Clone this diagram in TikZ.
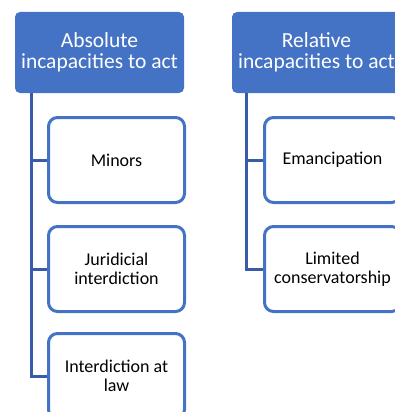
\documentclass[tikz,border=0pt]{standalone}
\usepackage{fontspec}
\setmainfont{Carlito}
\definecolor{boxblue}{RGB}{68,114,196}
\definecolor{lineblue}{RGB}{56,92,170}
\tikzset{
  headbox/.style={fill=boxblue, text=white, rounded corners=5pt, minimum width=169pt,
    minimum height=81pt, inner sep=0pt, align=center, font=\fontsize{21.5}{21}\selectfont},
  itembox/.style={draw=boxblue, line width=3pt, fill=white, rounded corners=9pt,
    minimum width=136pt, minimum height=85pt, inner sep=0pt, align=center,
    font=\fontsize{18}{18.5}\selectfont},
  link/.style={draw=lineblue, line width=3pt}
}
\begin{document}
\begin{tikzpicture}[x=1pt, y=-1pt]
\useasboundingbox (0,0) rectangle (394,412);

\node [headbox] (absolute) at (99.5,52.5) {Absolute\\incapacities to act};
\node [itembox] (minors) at (116.5,160) {Minors};
\node [itembox] (juridicial) at (116.5,269) {Juridicial\\interdiction};
\node [itembox] (interdiction) at (116.5,376) {Interdiction at\\law};

\node [headbox] (relative) at (316.5,52.5) {Relative\\incapacities to act};
\node [itembox] (emancipation) at (332.5,160) {Emancipation};
\node [itembox] (limited) at (332.5,269) {Limited\\conservatorship};

\draw [link] ([xshift=17pt]absolute.south west) |- (interdiction.west);
\draw [link] ([xshift=17pt]absolute.south west) |- (minors.west);
\draw [link] ([xshift=17pt]absolute.south west) |- (juridicial.west);

\draw [link] ([xshift=15pt]relative.south west) |- (limited.west);
\draw [link] ([xshift=15pt]relative.south west) |- (emancipation.west);
\end{tikzpicture}
\end{document}
